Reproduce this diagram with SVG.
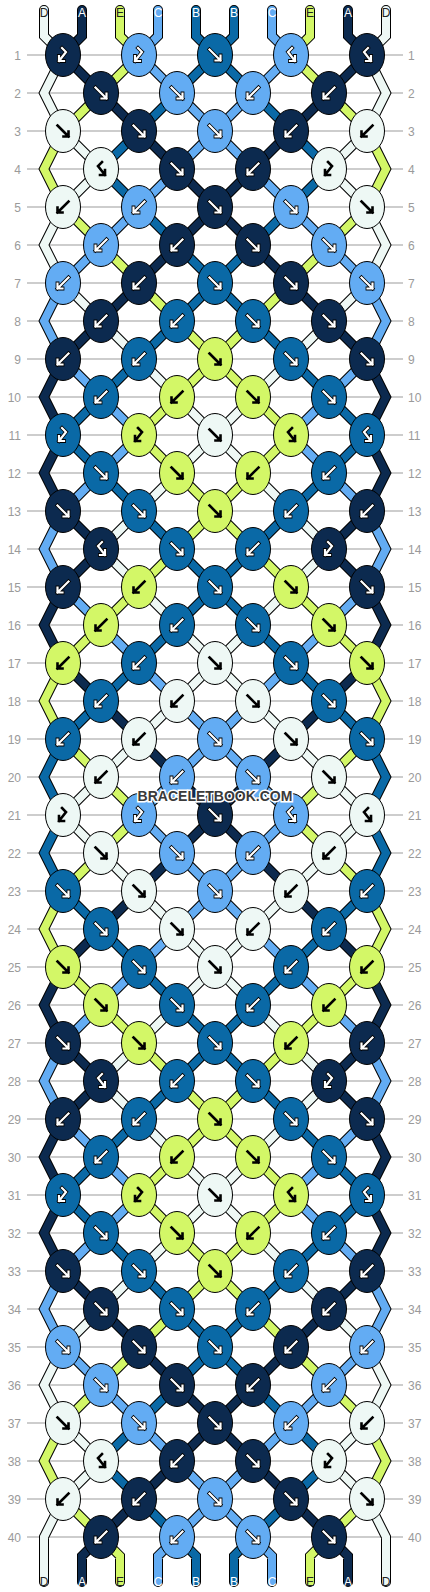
<svg xmlns="http://www.w3.org/2000/svg" width="430" height="1592" viewBox="0 0 430 1592">
<style>
text{font-family:"Liberation Sans",Arial,sans-serif}
.rl{stroke:#bdbdbd;stroke-width:1.3;fill:none}
.rn{font-size:12px;fill:#9a9a9a}
.rnl{text-anchor:end}
.so{stroke:#000;stroke-width:10;stroke-linecap:round}
.s{stroke-width:8;stroke-linecap:round}
.sA{stroke:#0c2a4f}.sB{stroke:#0a69a6}.sC{stroke:#63acf3}.sD{stroke:#eef8f5}.sE{stroke:#d3f767}
ellipse{stroke:#000;stroke-width:1}
.A{fill:#0c2a4f}.B{fill:#0a69a6}.C{fill:#63acf3}.D{fill:#eef8f5}.E{fill:#d3f767}
.go{stroke:#000;stroke-width:3.8}
.gw{stroke:#fff;stroke-width:2.2}
.gb{stroke:#000;stroke-width:2.6}
.lb{font-size:12px;text-anchor:middle}
.lw{fill:#fff}.ld{fill:#222}
.wm{font-size:14px;font-weight:bold;fill:#3a3a3a;stroke:#fff;stroke-width:3;paint-order:stroke;text-anchor:middle}
</style>
<defs>
<path id="gF" fill="none" stroke-linecap="square" d="M-5.5,-5.5L5.5,5.5M5.5,0.5L5.5,5.5L0.5,5.5"/>
<path id="gB" fill="none" stroke-linecap="square" d="M5.5,-5.5L-5.5,5.5M-5.5,0.5L-5.5,5.5L-0.5,5.5"/>
<path id="gL" fill="none" stroke-linecap="square" d="M-1,-7L3,-3L-4,6M-4,1L-4,6L1,6"/>
<path id="gR" fill="none" stroke-linecap="square" d="M1,-7L-3,-3L4,6M4,1L4,6L-1,6"/>
<g id="Fw"><use href="#gF" class="go"/><use href="#gF" class="gw"/></g>
<g id="Bw"><use href="#gB" class="go"/><use href="#gB" class="gw"/></g>
<g id="Lw"><use href="#gL" class="go"/><use href="#gL" class="gw"/></g>
<g id="Rw"><use href="#gR" class="go"/><use href="#gR" class="gw"/></g>
<g id="Fb"><use href="#gF" class="gb"/></g>
<g id="Bb"><use href="#gB" class="gb"/></g>
<g id="Lb"><use href="#gL" class="gb"/></g>
<g id="Rb"><use href="#gR" class="gb"/></g>
<path id="pD" fill="none" d="M44,10L44,36 63,55 44,93 63,131 101,169 63,207 44,245 63,283 101,321 139,359 177,397 215,435 177,473 139,511 101,549 139,587 177,625 215,663 177,701 139,739 101,777 63,815 101,853 139,891 177,929 215,967 177,1005 139,1043 101,1081 139,1119 177,1157 215,1195 177,1233 139,1271 101,1309 63,1347 44,1385 63,1423 101,1461 63,1499 44,1537 44,1582"/>
<path id="pA" fill="none" d="M82,10L82,36 63,55 101,93 139,131 177,169 215,207 177,245 139,283 101,321 63,359 44,397 63,435 44,473 63,511 101,549 63,587 44,625 63,663 101,701 139,739 177,777 215,815 177,853 139,891 101,929 63,967 44,1005 63,1043 101,1081 63,1119 44,1157 63,1195 44,1233 63,1271 101,1309 139,1347 177,1385 215,1423 177,1461 139,1499 101,1537 82,1556 82,1582"/>
<path id="pE" fill="none" d="M120,10L120,36 139,55 101,93 63,131 44,169 63,207 101,245 139,283 177,321 215,359 177,397 139,435 177,473 215,511 177,549 139,587 101,625 63,663 44,701 63,739 101,777 139,815 101,853 63,891 44,929 63,967 101,1005 139,1043 177,1081 215,1119 177,1157 139,1195 177,1233 215,1271 177,1309 139,1347 101,1385 63,1423 44,1461 63,1499 101,1537 120,1556 120,1582"/>
<path id="pC" fill="none" d="M158,10L158,36 139,55 177,93 215,131 177,169 139,207 101,245 63,283 44,321 63,359 101,397 139,435 101,473 63,511 44,549 63,587 101,625 139,663 177,701 215,739 177,777 139,815 177,853 215,891 177,929 139,967 101,1005 63,1043 44,1081 63,1119 101,1157 139,1195 101,1233 63,1271 44,1309 63,1347 101,1385 139,1423 177,1461 215,1499 177,1537 158,1556 158,1582"/>
<path id="pB" fill="none" d="M196,10L196,36 215,55 177,93 139,131 101,169 139,207 177,245 215,283 177,321 139,359 101,397 63,435 101,473 139,511 177,549 215,587 177,625 139,663 101,701 63,739 44,777 63,815 44,853 63,891 101,929 139,967 177,1005 215,1043 177,1081 139,1119 101,1157 63,1195 101,1233 139,1271 177,1309 215,1347 177,1385 139,1423 101,1461 139,1499 177,1537 196,1556 196,1582"/>
</defs>
<rect width="430" height="1592" fill="#fff"/>
<g id="rows">
<path class="rl" d="M27,55H403M27,93H403M27,131H403M27,169H403M27,207H403M27,245H403M27,283H403M27,321H403M27,359H403M27,397H403M27,435H403M27,473H403M27,511H403M27,549H403M27,587H403M27,625H403M27,663H403M27,701H403M27,739H403M27,777H403M27,815H403M27,853H403M27,891H403M27,929H403M27,967H403M27,1005H403M27,1043H403M27,1081H403M27,1119H403M27,1157H403M27,1195H403M27,1233H403M27,1271H403M27,1309H403M27,1347H403M27,1385H403M27,1423H403M27,1461H403M27,1499H403M27,1537H403"/>
<g class="rn rnl">
<text x="21" y="59.5">1</text><text x="21" y="97.5">2</text><text x="21" y="135.5">3</text><text x="21" y="173.5">4</text><text x="21" y="211.5">5</text><text x="21" y="249.5">6</text><text x="21" y="287.5">7</text><text x="21" y="325.5">8</text><text x="21" y="363.5">9</text><text x="21" y="401.5">10</text><text x="21" y="439.5">11</text><text x="21" y="477.5">12</text><text x="21" y="515.5">13</text><text x="21" y="553.5">14</text><text x="21" y="591.5">15</text><text x="21" y="629.5">16</text><text x="21" y="667.5">17</text><text x="21" y="705.5">18</text><text x="21" y="743.5">19</text><text x="21" y="781.5">20</text><text x="21" y="819.5">21</text><text x="21" y="857.5">22</text><text x="21" y="895.5">23</text><text x="21" y="933.5">24</text><text x="21" y="971.5">25</text><text x="21" y="1009.5">26</text><text x="21" y="1047.5">27</text><text x="21" y="1085.5">28</text><text x="21" y="1123.5">29</text><text x="21" y="1161.5">30</text><text x="21" y="1199.5">31</text><text x="21" y="1237.5">32</text><text x="21" y="1275.5">33</text><text x="21" y="1313.5">34</text><text x="21" y="1351.5">35</text><text x="21" y="1389.5">36</text><text x="21" y="1427.5">37</text><text x="21" y="1465.5">38</text><text x="21" y="1503.5">39</text><text x="21" y="1541.5">40</text>
</g>
<g class="rn">
<text x="408" y="59.5">1</text><text x="408" y="97.5">2</text><text x="408" y="135.5">3</text><text x="408" y="173.5">4</text><text x="408" y="211.5">5</text><text x="408" y="249.5">6</text><text x="408" y="287.5">7</text><text x="408" y="325.5">8</text><text x="408" y="363.5">9</text><text x="408" y="401.5">10</text><text x="408" y="439.5">11</text><text x="408" y="477.5">12</text><text x="408" y="515.5">13</text><text x="408" y="553.5">14</text><text x="408" y="591.5">15</text><text x="408" y="629.5">16</text><text x="408" y="667.5">17</text><text x="408" y="705.5">18</text><text x="408" y="743.5">19</text><text x="408" y="781.5">20</text><text x="408" y="819.5">21</text><text x="408" y="857.5">22</text><text x="408" y="895.5">23</text><text x="408" y="933.5">24</text><text x="408" y="971.5">25</text><text x="408" y="1009.5">26</text><text x="408" y="1047.5">27</text><text x="408" y="1085.5">28</text><text x="408" y="1123.5">29</text><text x="408" y="1161.5">30</text><text x="408" y="1199.5">31</text><text x="408" y="1237.5">32</text><text x="408" y="1275.5">33</text><text x="408" y="1313.5">34</text><text x="408" y="1351.5">35</text><text x="408" y="1389.5">36</text><text x="408" y="1427.5">37</text><text x="408" y="1465.5">38</text><text x="408" y="1503.5">39</text><text x="408" y="1541.5">40</text>
</g>
</g>
<g id="connectors">
<use href="#pD" class="so"/><use href="#pA" class="so"/><use href="#pE" class="so"/><use href="#pC" class="so"/><use href="#pB" class="so"/>
<g transform="matrix(-1 0 0 1 430 0)"><use href="#pD" class="so"/><use href="#pA" class="so"/><use href="#pE" class="so"/><use href="#pC" class="so"/><use href="#pB" class="so"/></g>
<use href="#pD" class="s sD"/><use href="#pA" class="s sA"/><use href="#pE" class="s sE"/><use href="#pC" class="s sC"/><use href="#pB" class="s sB"/>
<g transform="matrix(-1 0 0 1 430 0)"><use href="#pD" class="s sD"/><use href="#pA" class="s sA"/><use href="#pE" class="s sE"/><use href="#pC" class="s sC"/><use href="#pB" class="s sB"/></g>
</g>
<g id="string-labels" class="lb">
<text x="44" y="17" class="ld">D</text><text x="82" y="17" class="lw">A</text><text x="120" y="17" class="ld">E</text><text x="158" y="17" class="lw">C</text><text x="196" y="17" class="lw">B</text><text x="234" y="17" class="lw">B</text><text x="272" y="17" class="lw">C</text><text x="310" y="17" class="ld">E</text><text x="348" y="17" class="lw">A</text><text x="386" y="17" class="ld">D</text>
<text x="44" y="1586" class="ld">D</text><text x="82" y="1586" class="lw">A</text><text x="120" y="1586" class="ld">E</text><text x="158" y="1586" class="lw">C</text><text x="196" y="1586" class="lw">B</text><text x="234" y="1586" class="lw">B</text><text x="272" y="1586" class="lw">C</text><text x="310" y="1586" class="ld">E</text><text x="348" y="1586" class="lw">A</text><text x="386" y="1586" class="ld">D</text>
</g>
<g id="knots">
<g id="n1-1"><ellipse class="A" cx="63" cy="55" rx="17.5" ry="21.5"/><use href="#Lw" x="63" y="55"/></g>
<g id="n1-2"><ellipse class="C" cx="139" cy="55" rx="17.5" ry="21.5"/><use href="#Lw" x="139" y="55"/></g>
<g id="n1-3"><ellipse class="B" cx="215" cy="55" rx="17.5" ry="21.5"/><use href="#Fw" x="215" y="55"/></g>
<g id="n1-4"><ellipse class="C" cx="291" cy="55" rx="17.5" ry="21.5"/><use href="#Rw" x="291" y="55"/></g>
<g id="n1-5"><ellipse class="A" cx="367" cy="55" rx="17.5" ry="21.5"/><use href="#Rw" x="367" y="55"/></g>
<g id="n2-1"><ellipse class="A" cx="101" cy="93" rx="17.5" ry="21.5"/><use href="#Fw" x="101" y="93"/></g>
<g id="n2-2"><ellipse class="C" cx="177" cy="93" rx="17.5" ry="21.5"/><use href="#Fw" x="177" y="93"/></g>
<g id="n2-3"><ellipse class="C" cx="253" cy="93" rx="17.5" ry="21.5"/><use href="#Bw" x="253" y="93"/></g>
<g id="n2-4"><ellipse class="A" cx="329" cy="93" rx="17.5" ry="21.5"/><use href="#Bw" x="329" y="93"/></g>
<g id="n3-1"><ellipse class="D" cx="63" cy="131" rx="17.5" ry="21.5"/><use href="#Fb" x="63" y="131"/></g>
<g id="n3-2"><ellipse class="A" cx="139" cy="131" rx="17.5" ry="21.5"/><use href="#Fw" x="139" y="131"/></g>
<g id="n3-3"><ellipse class="C" cx="215" cy="131" rx="17.5" ry="21.5"/><use href="#Fw" x="215" y="131"/></g>
<g id="n3-4"><ellipse class="A" cx="291" cy="131" rx="17.5" ry="21.5"/><use href="#Bw" x="291" y="131"/></g>
<g id="n3-5"><ellipse class="D" cx="367" cy="131" rx="17.5" ry="21.5"/><use href="#Bb" x="367" y="131"/></g>
<g id="n4-1"><ellipse class="D" cx="101" cy="169" rx="17.5" ry="21.5"/><use href="#Rb" x="101" y="169"/></g>
<g id="n4-2"><ellipse class="A" cx="177" cy="169" rx="17.5" ry="21.5"/><use href="#Fw" x="177" y="169"/></g>
<g id="n4-3"><ellipse class="A" cx="253" cy="169" rx="17.5" ry="21.5"/><use href="#Bw" x="253" y="169"/></g>
<g id="n4-4"><ellipse class="D" cx="329" cy="169" rx="17.5" ry="21.5"/><use href="#Lb" x="329" y="169"/></g>
<g id="n5-1"><ellipse class="D" cx="63" cy="207" rx="17.5" ry="21.5"/><use href="#Bb" x="63" y="207"/></g>
<g id="n5-2"><ellipse class="C" cx="139" cy="207" rx="17.5" ry="21.5"/><use href="#Bw" x="139" y="207"/></g>
<g id="n5-3"><ellipse class="A" cx="215" cy="207" rx="17.5" ry="21.5"/><use href="#Fw" x="215" y="207"/></g>
<g id="n5-4"><ellipse class="C" cx="291" cy="207" rx="17.5" ry="21.5"/><use href="#Fw" x="291" y="207"/></g>
<g id="n5-5"><ellipse class="D" cx="367" cy="207" rx="17.5" ry="21.5"/><use href="#Fb" x="367" y="207"/></g>
<g id="n6-1"><ellipse class="C" cx="101" cy="245" rx="17.5" ry="21.5"/><use href="#Bw" x="101" y="245"/></g>
<g id="n6-2"><ellipse class="A" cx="177" cy="245" rx="17.5" ry="21.5"/><use href="#Bw" x="177" y="245"/></g>
<g id="n6-3"><ellipse class="A" cx="253" cy="245" rx="17.5" ry="21.5"/><use href="#Fw" x="253" y="245"/></g>
<g id="n6-4"><ellipse class="C" cx="329" cy="245" rx="17.5" ry="21.5"/><use href="#Fw" x="329" y="245"/></g>
<g id="n7-1"><ellipse class="C" cx="63" cy="283" rx="17.5" ry="21.5"/><use href="#Bw" x="63" y="283"/></g>
<g id="n7-2"><ellipse class="A" cx="139" cy="283" rx="17.5" ry="21.5"/><use href="#Bw" x="139" y="283"/></g>
<g id="n7-3"><ellipse class="B" cx="215" cy="283" rx="17.5" ry="21.5"/><use href="#Fw" x="215" y="283"/></g>
<g id="n7-4"><ellipse class="A" cx="291" cy="283" rx="17.5" ry="21.5"/><use href="#Fw" x="291" y="283"/></g>
<g id="n7-5"><ellipse class="C" cx="367" cy="283" rx="17.5" ry="21.5"/><use href="#Fw" x="367" y="283"/></g>
<g id="n8-1"><ellipse class="A" cx="101" cy="321" rx="17.5" ry="21.5"/><use href="#Bw" x="101" y="321"/></g>
<g id="n8-2"><ellipse class="B" cx="177" cy="321" rx="17.5" ry="21.5"/><use href="#Bw" x="177" y="321"/></g>
<g id="n8-3"><ellipse class="B" cx="253" cy="321" rx="17.5" ry="21.5"/><use href="#Fw" x="253" y="321"/></g>
<g id="n8-4"><ellipse class="A" cx="329" cy="321" rx="17.5" ry="21.5"/><use href="#Fw" x="329" y="321"/></g>
<g id="n9-1"><ellipse class="A" cx="63" cy="359" rx="17.5" ry="21.5"/><use href="#Bw" x="63" y="359"/></g>
<g id="n9-2"><ellipse class="B" cx="139" cy="359" rx="17.5" ry="21.5"/><use href="#Bw" x="139" y="359"/></g>
<g id="n9-3"><ellipse class="E" cx="215" cy="359" rx="17.5" ry="21.5"/><use href="#Fb" x="215" y="359"/></g>
<g id="n9-4"><ellipse class="B" cx="291" cy="359" rx="17.5" ry="21.5"/><use href="#Fw" x="291" y="359"/></g>
<g id="n9-5"><ellipse class="A" cx="367" cy="359" rx="17.5" ry="21.5"/><use href="#Fw" x="367" y="359"/></g>
<g id="n10-1"><ellipse class="B" cx="101" cy="397" rx="17.5" ry="21.5"/><use href="#Bw" x="101" y="397"/></g>
<g id="n10-2"><ellipse class="E" cx="177" cy="397" rx="17.5" ry="21.5"/><use href="#Bb" x="177" y="397"/></g>
<g id="n10-3"><ellipse class="E" cx="253" cy="397" rx="17.5" ry="21.5"/><use href="#Fb" x="253" y="397"/></g>
<g id="n10-4"><ellipse class="B" cx="329" cy="397" rx="17.5" ry="21.5"/><use href="#Fw" x="329" y="397"/></g>
<g id="n11-1"><ellipse class="B" cx="63" cy="435" rx="17.5" ry="21.5"/><use href="#Lw" x="63" y="435"/></g>
<g id="n11-2"><ellipse class="E" cx="139" cy="435" rx="17.5" ry="21.5"/><use href="#Lb" x="139" y="435"/></g>
<g id="n11-3"><ellipse class="D" cx="215" cy="435" rx="17.5" ry="21.5"/><use href="#Fb" x="215" y="435"/></g>
<g id="n11-4"><ellipse class="E" cx="291" cy="435" rx="17.5" ry="21.5"/><use href="#Rb" x="291" y="435"/></g>
<g id="n11-5"><ellipse class="B" cx="367" cy="435" rx="17.5" ry="21.5"/><use href="#Rw" x="367" y="435"/></g>
<g id="n12-1"><ellipse class="B" cx="101" cy="473" rx="17.5" ry="21.5"/><use href="#Fw" x="101" y="473"/></g>
<g id="n12-2"><ellipse class="E" cx="177" cy="473" rx="17.5" ry="21.5"/><use href="#Fb" x="177" y="473"/></g>
<g id="n12-3"><ellipse class="E" cx="253" cy="473" rx="17.5" ry="21.5"/><use href="#Bb" x="253" y="473"/></g>
<g id="n12-4"><ellipse class="B" cx="329" cy="473" rx="17.5" ry="21.5"/><use href="#Bw" x="329" y="473"/></g>
<g id="n13-1"><ellipse class="A" cx="63" cy="511" rx="17.5" ry="21.5"/><use href="#Fw" x="63" y="511"/></g>
<g id="n13-2"><ellipse class="B" cx="139" cy="511" rx="17.5" ry="21.5"/><use href="#Fw" x="139" y="511"/></g>
<g id="n13-3"><ellipse class="E" cx="215" cy="511" rx="17.5" ry="21.5"/><use href="#Fb" x="215" y="511"/></g>
<g id="n13-4"><ellipse class="B" cx="291" cy="511" rx="17.5" ry="21.5"/><use href="#Bw" x="291" y="511"/></g>
<g id="n13-5"><ellipse class="A" cx="367" cy="511" rx="17.5" ry="21.5"/><use href="#Bw" x="367" y="511"/></g>
<g id="n14-1"><ellipse class="A" cx="101" cy="549" rx="17.5" ry="21.5"/><use href="#Rw" x="101" y="549"/></g>
<g id="n14-2"><ellipse class="B" cx="177" cy="549" rx="17.5" ry="21.5"/><use href="#Fw" x="177" y="549"/></g>
<g id="n14-3"><ellipse class="B" cx="253" cy="549" rx="17.5" ry="21.5"/><use href="#Bw" x="253" y="549"/></g>
<g id="n14-4"><ellipse class="A" cx="329" cy="549" rx="17.5" ry="21.5"/><use href="#Lw" x="329" y="549"/></g>
<g id="n15-1"><ellipse class="A" cx="63" cy="587" rx="17.5" ry="21.5"/><use href="#Bw" x="63" y="587"/></g>
<g id="n15-2"><ellipse class="E" cx="139" cy="587" rx="17.5" ry="21.5"/><use href="#Bb" x="139" y="587"/></g>
<g id="n15-3"><ellipse class="B" cx="215" cy="587" rx="17.5" ry="21.5"/><use href="#Fw" x="215" y="587"/></g>
<g id="n15-4"><ellipse class="E" cx="291" cy="587" rx="17.5" ry="21.5"/><use href="#Fb" x="291" y="587"/></g>
<g id="n15-5"><ellipse class="A" cx="367" cy="587" rx="17.5" ry="21.5"/><use href="#Fw" x="367" y="587"/></g>
<g id="n16-1"><ellipse class="E" cx="101" cy="625" rx="17.5" ry="21.5"/><use href="#Bb" x="101" y="625"/></g>
<g id="n16-2"><ellipse class="B" cx="177" cy="625" rx="17.5" ry="21.5"/><use href="#Bw" x="177" y="625"/></g>
<g id="n16-3"><ellipse class="B" cx="253" cy="625" rx="17.5" ry="21.5"/><use href="#Fw" x="253" y="625"/></g>
<g id="n16-4"><ellipse class="E" cx="329" cy="625" rx="17.5" ry="21.5"/><use href="#Fb" x="329" y="625"/></g>
<g id="n17-1"><ellipse class="E" cx="63" cy="663" rx="17.5" ry="21.5"/><use href="#Bb" x="63" y="663"/></g>
<g id="n17-2"><ellipse class="B" cx="139" cy="663" rx="17.5" ry="21.5"/><use href="#Bw" x="139" y="663"/></g>
<g id="n17-3"><ellipse class="D" cx="215" cy="663" rx="17.5" ry="21.5"/><use href="#Fb" x="215" y="663"/></g>
<g id="n17-4"><ellipse class="B" cx="291" cy="663" rx="17.5" ry="21.5"/><use href="#Fw" x="291" y="663"/></g>
<g id="n17-5"><ellipse class="E" cx="367" cy="663" rx="17.5" ry="21.5"/><use href="#Fb" x="367" y="663"/></g>
<g id="n18-1"><ellipse class="B" cx="101" cy="701" rx="17.5" ry="21.5"/><use href="#Bw" x="101" y="701"/></g>
<g id="n18-2"><ellipse class="D" cx="177" cy="701" rx="17.5" ry="21.5"/><use href="#Bb" x="177" y="701"/></g>
<g id="n18-3"><ellipse class="D" cx="253" cy="701" rx="17.5" ry="21.5"/><use href="#Fb" x="253" y="701"/></g>
<g id="n18-4"><ellipse class="B" cx="329" cy="701" rx="17.5" ry="21.5"/><use href="#Fw" x="329" y="701"/></g>
<g id="n19-1"><ellipse class="B" cx="63" cy="739" rx="17.5" ry="21.5"/><use href="#Bw" x="63" y="739"/></g>
<g id="n19-2"><ellipse class="D" cx="139" cy="739" rx="17.5" ry="21.5"/><use href="#Bb" x="139" y="739"/></g>
<g id="n19-3"><ellipse class="C" cx="215" cy="739" rx="17.5" ry="21.5"/><use href="#Fw" x="215" y="739"/></g>
<g id="n19-4"><ellipse class="D" cx="291" cy="739" rx="17.5" ry="21.5"/><use href="#Fb" x="291" y="739"/></g>
<g id="n19-5"><ellipse class="B" cx="367" cy="739" rx="17.5" ry="21.5"/><use href="#Fw" x="367" y="739"/></g>
<g id="n20-1"><ellipse class="D" cx="101" cy="777" rx="17.5" ry="21.5"/><use href="#Bb" x="101" y="777"/></g>
<g id="n20-2"><ellipse class="C" cx="177" cy="777" rx="17.5" ry="21.5"/><use href="#Bw" x="177" y="777"/></g>
<g id="n20-3"><ellipse class="C" cx="253" cy="777" rx="17.5" ry="21.5"/><use href="#Fw" x="253" y="777"/></g>
<g id="n20-4"><ellipse class="D" cx="329" cy="777" rx="17.5" ry="21.5"/><use href="#Fb" x="329" y="777"/></g>
<g id="n21-1"><ellipse class="D" cx="63" cy="815" rx="17.5" ry="21.5"/><use href="#Lb" x="63" y="815"/></g>
<g id="n21-2"><ellipse class="C" cx="139" cy="815" rx="17.5" ry="21.5"/><use href="#Lw" x="139" y="815"/></g>
<g id="n21-3"><ellipse class="A" cx="215" cy="815" rx="17.5" ry="21.5"/><use href="#Fw" x="215" y="815"/></g>
<g id="n21-4"><ellipse class="C" cx="291" cy="815" rx="17.5" ry="21.5"/><use href="#Rw" x="291" y="815"/></g>
<g id="n21-5"><ellipse class="D" cx="367" cy="815" rx="17.5" ry="21.5"/><use href="#Rb" x="367" y="815"/></g>
<g id="n22-1"><ellipse class="D" cx="101" cy="853" rx="17.5" ry="21.5"/><use href="#Fb" x="101" y="853"/></g>
<g id="n22-2"><ellipse class="C" cx="177" cy="853" rx="17.5" ry="21.5"/><use href="#Fw" x="177" y="853"/></g>
<g id="n22-3"><ellipse class="C" cx="253" cy="853" rx="17.5" ry="21.5"/><use href="#Bw" x="253" y="853"/></g>
<g id="n22-4"><ellipse class="D" cx="329" cy="853" rx="17.5" ry="21.5"/><use href="#Bb" x="329" y="853"/></g>
<g id="n23-1"><ellipse class="B" cx="63" cy="891" rx="17.5" ry="21.5"/><use href="#Fw" x="63" y="891"/></g>
<g id="n23-2"><ellipse class="D" cx="139" cy="891" rx="17.5" ry="21.5"/><use href="#Fb" x="139" y="891"/></g>
<g id="n23-3"><ellipse class="C" cx="215" cy="891" rx="17.5" ry="21.5"/><use href="#Fw" x="215" y="891"/></g>
<g id="n23-4"><ellipse class="D" cx="291" cy="891" rx="17.5" ry="21.5"/><use href="#Bb" x="291" y="891"/></g>
<g id="n23-5"><ellipse class="B" cx="367" cy="891" rx="17.5" ry="21.5"/><use href="#Bw" x="367" y="891"/></g>
<g id="n24-1"><ellipse class="B" cx="101" cy="929" rx="17.5" ry="21.5"/><use href="#Fw" x="101" y="929"/></g>
<g id="n24-2"><ellipse class="D" cx="177" cy="929" rx="17.5" ry="21.5"/><use href="#Fb" x="177" y="929"/></g>
<g id="n24-3"><ellipse class="D" cx="253" cy="929" rx="17.5" ry="21.5"/><use href="#Bb" x="253" y="929"/></g>
<g id="n24-4"><ellipse class="B" cx="329" cy="929" rx="17.5" ry="21.5"/><use href="#Bw" x="329" y="929"/></g>
<g id="n25-1"><ellipse class="E" cx="63" cy="967" rx="17.5" ry="21.5"/><use href="#Fb" x="63" y="967"/></g>
<g id="n25-2"><ellipse class="B" cx="139" cy="967" rx="17.5" ry="21.5"/><use href="#Fw" x="139" y="967"/></g>
<g id="n25-3"><ellipse class="D" cx="215" cy="967" rx="17.5" ry="21.5"/><use href="#Fb" x="215" y="967"/></g>
<g id="n25-4"><ellipse class="B" cx="291" cy="967" rx="17.5" ry="21.5"/><use href="#Bw" x="291" y="967"/></g>
<g id="n25-5"><ellipse class="E" cx="367" cy="967" rx="17.5" ry="21.5"/><use href="#Bb" x="367" y="967"/></g>
<g id="n26-1"><ellipse class="E" cx="101" cy="1005" rx="17.5" ry="21.5"/><use href="#Fb" x="101" y="1005"/></g>
<g id="n26-2"><ellipse class="B" cx="177" cy="1005" rx="17.5" ry="21.5"/><use href="#Fw" x="177" y="1005"/></g>
<g id="n26-3"><ellipse class="B" cx="253" cy="1005" rx="17.5" ry="21.5"/><use href="#Bw" x="253" y="1005"/></g>
<g id="n26-4"><ellipse class="E" cx="329" cy="1005" rx="17.5" ry="21.5"/><use href="#Bb" x="329" y="1005"/></g>
<g id="n27-1"><ellipse class="A" cx="63" cy="1043" rx="17.5" ry="21.5"/><use href="#Fw" x="63" y="1043"/></g>
<g id="n27-2"><ellipse class="E" cx="139" cy="1043" rx="17.5" ry="21.5"/><use href="#Fb" x="139" y="1043"/></g>
<g id="n27-3"><ellipse class="B" cx="215" cy="1043" rx="17.5" ry="21.5"/><use href="#Fw" x="215" y="1043"/></g>
<g id="n27-4"><ellipse class="E" cx="291" cy="1043" rx="17.5" ry="21.5"/><use href="#Bb" x="291" y="1043"/></g>
<g id="n27-5"><ellipse class="A" cx="367" cy="1043" rx="17.5" ry="21.5"/><use href="#Bw" x="367" y="1043"/></g>
<g id="n28-1"><ellipse class="A" cx="101" cy="1081" rx="17.5" ry="21.5"/><use href="#Rw" x="101" y="1081"/></g>
<g id="n28-2"><ellipse class="B" cx="177" cy="1081" rx="17.5" ry="21.5"/><use href="#Bw" x="177" y="1081"/></g>
<g id="n28-3"><ellipse class="B" cx="253" cy="1081" rx="17.5" ry="21.5"/><use href="#Fw" x="253" y="1081"/></g>
<g id="n28-4"><ellipse class="A" cx="329" cy="1081" rx="17.5" ry="21.5"/><use href="#Lw" x="329" y="1081"/></g>
<g id="n29-1"><ellipse class="A" cx="63" cy="1119" rx="17.5" ry="21.5"/><use href="#Bw" x="63" y="1119"/></g>
<g id="n29-2"><ellipse class="B" cx="139" cy="1119" rx="17.5" ry="21.5"/><use href="#Bw" x="139" y="1119"/></g>
<g id="n29-3"><ellipse class="E" cx="215" cy="1119" rx="17.5" ry="21.5"/><use href="#Fb" x="215" y="1119"/></g>
<g id="n29-4"><ellipse class="B" cx="291" cy="1119" rx="17.5" ry="21.5"/><use href="#Fw" x="291" y="1119"/></g>
<g id="n29-5"><ellipse class="A" cx="367" cy="1119" rx="17.5" ry="21.5"/><use href="#Fw" x="367" y="1119"/></g>
<g id="n30-1"><ellipse class="B" cx="101" cy="1157" rx="17.5" ry="21.5"/><use href="#Bw" x="101" y="1157"/></g>
<g id="n30-2"><ellipse class="E" cx="177" cy="1157" rx="17.5" ry="21.5"/><use href="#Bb" x="177" y="1157"/></g>
<g id="n30-3"><ellipse class="E" cx="253" cy="1157" rx="17.5" ry="21.5"/><use href="#Fb" x="253" y="1157"/></g>
<g id="n30-4"><ellipse class="B" cx="329" cy="1157" rx="17.5" ry="21.5"/><use href="#Fw" x="329" y="1157"/></g>
<g id="n31-1"><ellipse class="B" cx="63" cy="1195" rx="17.5" ry="21.5"/><use href="#Lw" x="63" y="1195"/></g>
<g id="n31-2"><ellipse class="E" cx="139" cy="1195" rx="17.5" ry="21.5"/><use href="#Lb" x="139" y="1195"/></g>
<g id="n31-3"><ellipse class="D" cx="215" cy="1195" rx="17.5" ry="21.5"/><use href="#Fb" x="215" y="1195"/></g>
<g id="n31-4"><ellipse class="E" cx="291" cy="1195" rx="17.5" ry="21.5"/><use href="#Rb" x="291" y="1195"/></g>
<g id="n31-5"><ellipse class="B" cx="367" cy="1195" rx="17.5" ry="21.5"/><use href="#Rw" x="367" y="1195"/></g>
<g id="n32-1"><ellipse class="B" cx="101" cy="1233" rx="17.5" ry="21.5"/><use href="#Fw" x="101" y="1233"/></g>
<g id="n32-2"><ellipse class="E" cx="177" cy="1233" rx="17.5" ry="21.5"/><use href="#Fb" x="177" y="1233"/></g>
<g id="n32-3"><ellipse class="E" cx="253" cy="1233" rx="17.5" ry="21.5"/><use href="#Bb" x="253" y="1233"/></g>
<g id="n32-4"><ellipse class="B" cx="329" cy="1233" rx="17.5" ry="21.5"/><use href="#Bw" x="329" y="1233"/></g>
<g id="n33-1"><ellipse class="A" cx="63" cy="1271" rx="17.5" ry="21.5"/><use href="#Fw" x="63" y="1271"/></g>
<g id="n33-2"><ellipse class="B" cx="139" cy="1271" rx="17.5" ry="21.5"/><use href="#Fw" x="139" y="1271"/></g>
<g id="n33-3"><ellipse class="E" cx="215" cy="1271" rx="17.5" ry="21.5"/><use href="#Fb" x="215" y="1271"/></g>
<g id="n33-4"><ellipse class="B" cx="291" cy="1271" rx="17.5" ry="21.5"/><use href="#Bw" x="291" y="1271"/></g>
<g id="n33-5"><ellipse class="A" cx="367" cy="1271" rx="17.5" ry="21.5"/><use href="#Bw" x="367" y="1271"/></g>
<g id="n34-1"><ellipse class="A" cx="101" cy="1309" rx="17.5" ry="21.5"/><use href="#Fw" x="101" y="1309"/></g>
<g id="n34-2"><ellipse class="B" cx="177" cy="1309" rx="17.5" ry="21.5"/><use href="#Fw" x="177" y="1309"/></g>
<g id="n34-3"><ellipse class="B" cx="253" cy="1309" rx="17.5" ry="21.5"/><use href="#Bw" x="253" y="1309"/></g>
<g id="n34-4"><ellipse class="A" cx="329" cy="1309" rx="17.5" ry="21.5"/><use href="#Bw" x="329" y="1309"/></g>
<g id="n35-1"><ellipse class="C" cx="63" cy="1347" rx="17.5" ry="21.5"/><use href="#Fw" x="63" y="1347"/></g>
<g id="n35-2"><ellipse class="A" cx="139" cy="1347" rx="17.5" ry="21.5"/><use href="#Fw" x="139" y="1347"/></g>
<g id="n35-3"><ellipse class="B" cx="215" cy="1347" rx="17.5" ry="21.5"/><use href="#Fw" x="215" y="1347"/></g>
<g id="n35-4"><ellipse class="A" cx="291" cy="1347" rx="17.5" ry="21.5"/><use href="#Bw" x="291" y="1347"/></g>
<g id="n35-5"><ellipse class="C" cx="367" cy="1347" rx="17.5" ry="21.5"/><use href="#Bw" x="367" y="1347"/></g>
<g id="n36-1"><ellipse class="C" cx="101" cy="1385" rx="17.5" ry="21.5"/><use href="#Fw" x="101" y="1385"/></g>
<g id="n36-2"><ellipse class="A" cx="177" cy="1385" rx="17.5" ry="21.5"/><use href="#Fw" x="177" y="1385"/></g>
<g id="n36-3"><ellipse class="A" cx="253" cy="1385" rx="17.5" ry="21.5"/><use href="#Bw" x="253" y="1385"/></g>
<g id="n36-4"><ellipse class="C" cx="329" cy="1385" rx="17.5" ry="21.5"/><use href="#Bw" x="329" y="1385"/></g>
<g id="n37-1"><ellipse class="D" cx="63" cy="1423" rx="17.5" ry="21.5"/><use href="#Fb" x="63" y="1423"/></g>
<g id="n37-2"><ellipse class="C" cx="139" cy="1423" rx="17.5" ry="21.5"/><use href="#Fw" x="139" y="1423"/></g>
<g id="n37-3"><ellipse class="A" cx="215" cy="1423" rx="17.5" ry="21.5"/><use href="#Fw" x="215" y="1423"/></g>
<g id="n37-4"><ellipse class="C" cx="291" cy="1423" rx="17.5" ry="21.5"/><use href="#Bw" x="291" y="1423"/></g>
<g id="n37-5"><ellipse class="D" cx="367" cy="1423" rx="17.5" ry="21.5"/><use href="#Bb" x="367" y="1423"/></g>
<g id="n38-1"><ellipse class="D" cx="101" cy="1461" rx="17.5" ry="21.5"/><use href="#Rb" x="101" y="1461"/></g>
<g id="n38-2"><ellipse class="A" cx="177" cy="1461" rx="17.5" ry="21.5"/><use href="#Bw" x="177" y="1461"/></g>
<g id="n38-3"><ellipse class="A" cx="253" cy="1461" rx="17.5" ry="21.5"/><use href="#Fw" x="253" y="1461"/></g>
<g id="n38-4"><ellipse class="D" cx="329" cy="1461" rx="17.5" ry="21.5"/><use href="#Lb" x="329" y="1461"/></g>
<g id="n39-1"><ellipse class="D" cx="63" cy="1499" rx="17.5" ry="21.5"/><use href="#Bb" x="63" y="1499"/></g>
<g id="n39-2"><ellipse class="A" cx="139" cy="1499" rx="17.5" ry="21.5"/><use href="#Bw" x="139" y="1499"/></g>
<g id="n39-3"><ellipse class="C" cx="215" cy="1499" rx="17.5" ry="21.5"/><use href="#Fw" x="215" y="1499"/></g>
<g id="n39-4"><ellipse class="A" cx="291" cy="1499" rx="17.5" ry="21.5"/><use href="#Fw" x="291" y="1499"/></g>
<g id="n39-5"><ellipse class="D" cx="367" cy="1499" rx="17.5" ry="21.5"/><use href="#Fb" x="367" y="1499"/></g>
<g id="n40-1"><ellipse class="A" cx="101" cy="1537" rx="17.5" ry="21.5"/><use href="#Bw" x="101" y="1537"/></g>
<g id="n40-2"><ellipse class="C" cx="177" cy="1537" rx="17.5" ry="21.5"/><use href="#Bw" x="177" y="1537"/></g>
<g id="n40-3"><ellipse class="C" cx="253" cy="1537" rx="17.5" ry="21.5"/><use href="#Fw" x="253" y="1537"/></g>
<g id="n40-4"><ellipse class="A" cx="329" cy="1537" rx="17.5" ry="21.5"/><use href="#Fw" x="329" y="1537"/></g>
</g>
<text class="wm" x="215" y="801">BRACELETBOOK.COM</text>
</svg>
